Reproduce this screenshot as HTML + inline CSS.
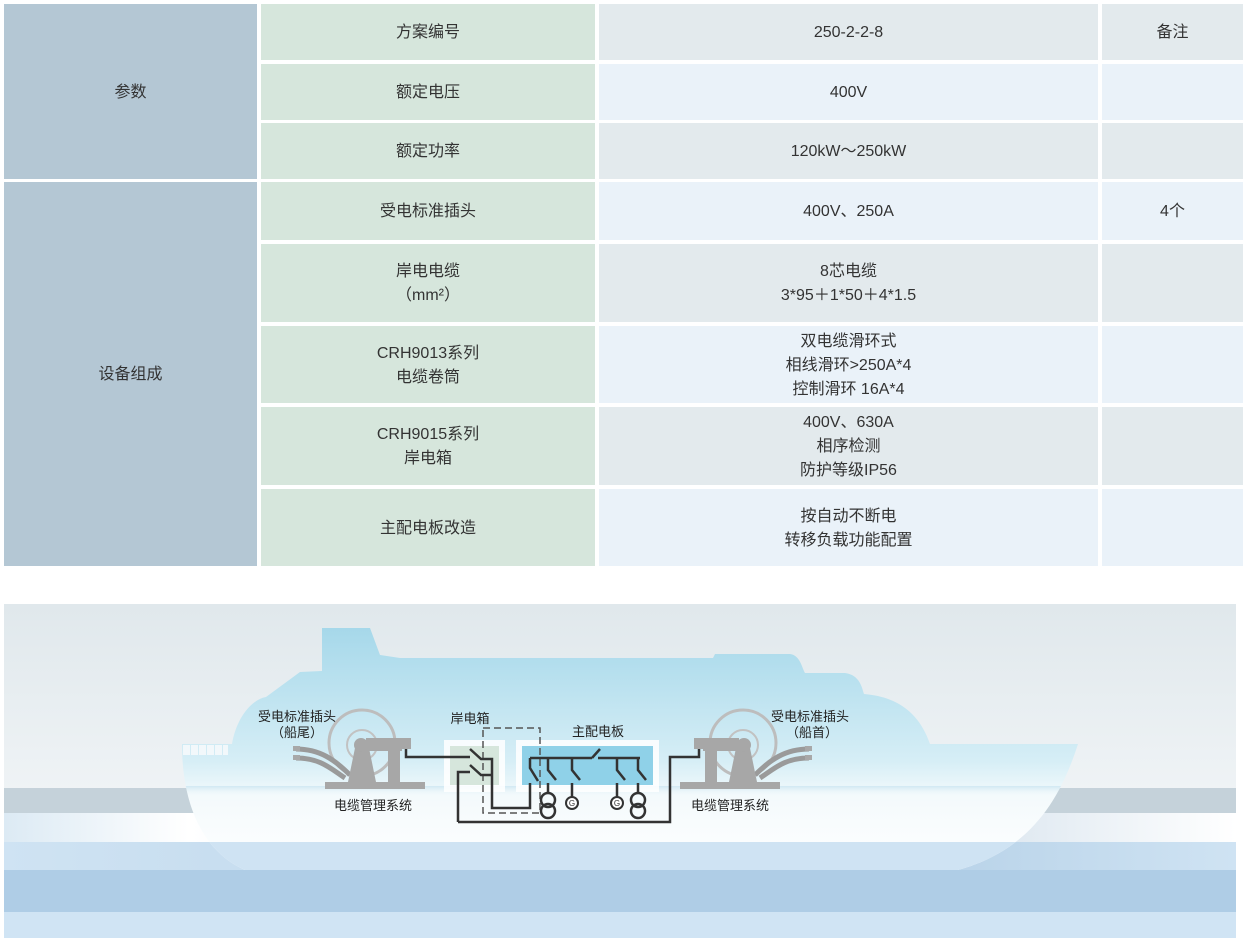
<!DOCTYPE html>
<html><head><meta charset="utf-8"><style>
body{margin:0;width:1248px;height:938px;background:#fff;position:relative;overflow:hidden;font-family:"Liberation Sans","Noto Sans CJK SC",sans-serif;color:#333;}
.c{position:absolute;display:flex;align-items:center;justify-content:center;text-align:center;font-size:16px;line-height:24px;padding-top:2px;box-sizing:border-box;}
.a{background:#b4c7d4}.g{background:#d6e6dc}.x{background:#e3eaed}.b{background:#eaf2f9}
svg{position:absolute;left:0;top:0}
</style></head><body>
<div class="c a" style="left:4px;top:4px;width:253px;height:175px">参数</div>
<div class="c a" style="left:4px;top:182px;width:253px;height:384px">设备组成</div>
<div class="c g" style="left:261px;top:4px;width:334px;height:56px">方案编号</div>
<div class="c x" style="left:599px;top:4px;width:499px;height:56px">250-2-2-8</div>
<div class="c x" style="left:1102px;top:4px;width:141px;height:56px">备注</div>
<div class="c g" style="left:261px;top:64px;width:334px;height:56px">额定电压</div>
<div class="c b" style="left:599px;top:64px;width:499px;height:56px">400V</div>
<div class="c b" style="left:1102px;top:64px;width:141px;height:56px"></div>
<div class="c g" style="left:261px;top:123px;width:334px;height:56px">额定功率</div>
<div class="c x" style="left:599px;top:123px;width:499px;height:56px">120kW～250kW</div>
<div class="c x" style="left:1102px;top:123px;width:141px;height:56px"></div>
<div class="c g" style="left:261px;top:182px;width:334px;height:58px">受电标准插头</div>
<div class="c b" style="left:599px;top:182px;width:499px;height:58px">400V、250A</div>
<div class="c b" style="left:1102px;top:182px;width:141px;height:58px">4个</div>
<div class="c g" style="left:261px;top:244px;width:334px;height:78px">岸电电缆<br>（mm²）</div>
<div class="c x" style="left:599px;top:244px;width:499px;height:78px">8芯电缆<br>3*95＋1*50＋4*1.5</div>
<div class="c x" style="left:1102px;top:244px;width:141px;height:78px"></div>
<div class="c g" style="left:261px;top:326px;width:334px;height:77px">CRH9013系列<br>电缆卷筒</div>
<div class="c b" style="left:599px;top:326px;width:499px;height:77px">双电缆滑环式<br>相线滑环&gt;250A*4<br>控制滑环 16A*4</div>
<div class="c b" style="left:1102px;top:326px;width:141px;height:77px"></div>
<div class="c g" style="left:261px;top:407px;width:334px;height:78px">CRH9015系列<br>岸电箱</div>
<div class="c x" style="left:599px;top:407px;width:499px;height:78px">400V、630A<br>相序检测<br>防护等级IP56</div>
<div class="c x" style="left:1102px;top:407px;width:141px;height:78px"></div>
<div class="c g" style="left:261px;top:489px;width:334px;height:77px">主配电板改造</div>
<div class="c b" style="left:599px;top:489px;width:499px;height:77px">按自动不断电<br>转移负载功能配置</div>
<div class="c b" style="left:1102px;top:489px;width:141px;height:77px"></div>

<svg width="1248" height="938" viewBox="0 0 1248 938">
<defs>
<linearGradient id="sky" x1="0" y1="0" x2="0" y2="1"><stop offset="0" stop-color="#e0e8ec"/><stop offset="1" stop-color="#fbfcfd"/></linearGradient>
<linearGradient id="ship" x1="0" y1="0" x2="0" y2="1"><stop offset="0" stop-color="#a6d8ea"/><stop offset="0.55" stop-color="#d6eef6"/><stop offset="0.7" stop-color="#f4fafc"/><stop offset="1" stop-color="#ffffff"/></linearGradient>
<linearGradient id="wl" x1="0" y1="0" x2="0" y2="1"><stop offset="0" stop-color="#bfe0ee"/><stop offset="1" stop-color="#ffffff" stop-opacity="0"/></linearGradient>
<linearGradient id="sea" x1="0" y1="0" x2="1" y2="0"><stop offset="0" stop-color="#dceaf4"/><stop offset="0.15" stop-color="#ffffff"/><stop offset="0.75" stop-color="#d4e1ec"/><stop offset="1" stop-color="#ffffff"/></linearGradient>
<linearGradient id="sea2" x1="0" y1="0" x2="1" y2="0"><stop offset="0" stop-color="#cfe3f3"/><stop offset="0.7" stop-color="#b3cfe6"/><stop offset="1" stop-color="#cfe3f3"/></linearGradient>
<clipPath id="hc"><path id="hp" d="M182,744 L232,744 C236,720 250,700 266,697 L300,672 L322,671 L322,628 L370,628 L380,655 L400,658 L713,658 L715,654 L790,654 C800,655 802,668 805,673 L845,673 C860,675 862,688 864,694 C900,697 920,715 930,744 L1078,744 C1060,800 1030,850 958,870 L245,870 C200,850 182,800 182,744 Z"/></clipPath>
</defs>
<rect x="4" y="604" width="1232" height="334" fill="url(#sky)"/>
<rect x="4" y="788" width="1232" height="25" fill="#c5d2da"/>
<rect x="4" y="813" width="1232" height="29" fill="url(#sea)"/>
<rect x="4" y="842" width="1232" height="28" fill="url(#sea2)"/>
<rect x="4" y="870" width="1232" height="42" fill="#afcde6"/>
<rect x="4" y="912" width="1232" height="26" fill="#d0e4f4"/>
<use href="#hp" fill="url(#ship)"/>
<rect x="150" y="842" width="950" height="30" fill="#cfe3f3" clip-path="url(#hc)"/>
<rect x="182" y="786" width="880" height="10" fill="url(#wl)" opacity="0.6" clip-path="url(#hc)"/>
<g fill="#f2f8fb"><rect x="183" y="745" width="7" height="10"/><rect x="191" y="745" width="7" height="10"/><rect x="199" y="745" width="7" height="10"/><rect x="207" y="745" width="7" height="10"/><rect x="215" y="745" width="7" height="10"/><rect x="223" y="745" width="5" height="10"/></g>
<g id="reel">
<circle cx="362" cy="743" r="33" fill="none" stroke="#bdbdbd" stroke-width="3"/>
<circle cx="362" cy="745" r="15" fill="none" stroke="#c2c2c2" stroke-width="2"/>
<path d="M296,749 C320,749 335,760 350,775 M296,758 C320,758 330,768 345,778" fill="none" stroke="#9a9a9a" stroke-width="5"/>
<rect x="293" y="746" width="7" height="5" fill="#a8a8a8"/><rect x="293" y="755" width="7" height="5" fill="#a8a8a8"/>
<polygon points="355,748 369,748 376,782 348,782" fill="#a7a7a7"/>
<circle cx="361" cy="745" r="7" fill="#a7a7a7"/>
<rect x="366" y="738" width="36" height="13" fill="#a7a7a7"/>
<rect x="388" y="738" width="12" height="44" fill="#a7a7a7"/>
<rect x="402" y="738" width="9" height="11" fill="#a7a7a7"/>
<rect x="325" y="782" width="100" height="7" fill="#a7a7a7"/>
</g>
<use href="#reel" transform="translate(1105,0) scale(-1,1)"/>
<rect x="444" y="740" width="61" height="52" fill="#fff" opacity="0.85"/>
<rect x="450" y="746" width="49" height="39" fill="#d6e6dc"/>
<rect x="516" y="740" width="143" height="52" fill="#fff" opacity="0.85"/>
<rect x="522" y="746" width="131" height="39" fill="#8fd1e8"/>
<rect x="483" y="728" width="57" height="85" fill="none" stroke="#555" stroke-width="1.5" stroke-dasharray="7,4"/>
<g fill="none" stroke="#333" stroke-width="2.5">
<path d="M406,749 L406,757 L470,757 M470,749 L481,759 L492,759 L492,808 L530,808 L530,783 M530,758 L530,768 L538,781"/>
<path d="M458,822 L458,772 L470,772 M470,765 L481,775 L492,775"/>
<path d="M458,822 L670,822 L670,757 L699,757 L699,749"/>
<path d="M530,758 L592,758 M592,758 L600,749 M598,758 L640,758"/>
<path d="M548,758 L548,770 L556,780 M548,783 L548,793"/>
<path d="M572,758 L572,770 L580,780 M572,783 L572,797"/>
<path d="M617,758 L617,770 L625,780 M617,783 L617,797"/>
<path d="M638,758 L638,770 L646,780 M638,783 L638,793"/>
<circle cx="548" cy="800" r="7"/><circle cx="548" cy="811" r="7"/>
<circle cx="638" cy="800" r="7"/><circle cx="638" cy="811" r="7"/>
</g>
<g fill="#fff" stroke="#333" stroke-width="2"><circle cx="572" cy="803" r="6"/><circle cx="617" cy="803" r="6"/></g>
<g font-size="8" font-family="Liberation Sans" text-anchor="middle" fill="#333"><text x="572" y="806">G</text><text x="617" y="806">G</text></g>
<g font-family="Liberation Sans,Noto Sans CJK SC,sans-serif" font-size="13" fill="#222" text-anchor="middle">
<text x="297" y="721">受电标准插头</text><text x="297" y="737">（船尾）</text>
<text x="810" y="721">受电标准插头</text><text x="812" y="737">（船首）</text>
<text x="470" y="723">岸电箱</text>
<text x="598" y="736">主配电板</text>
<text x="373" y="810">电缆管理系统</text>
<text x="730" y="810">电缆管理系统</text>
</g>
</svg>
</body></html>
